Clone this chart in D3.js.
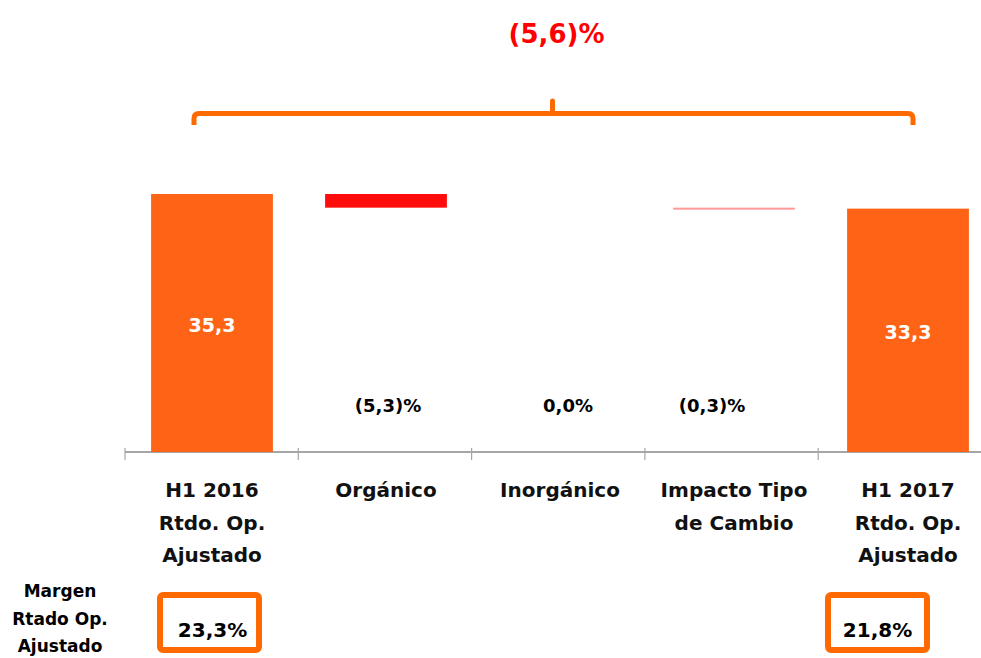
<!DOCTYPE html>
<html>
<head>
<meta charset="utf-8">
<script src="https://cdn.jsdelivr.net/npm/d3@7"></script>
<style>
  html, body { margin: 0; padding: 0; background: #fff; }
  svg { display: block; font-family: "DejaVu Sans", Verdana, sans-serif; font-weight: bold; }
</style>
</head>
<body>
<svg id="chart" width="981" height="658"></svg>
<script>
// ---- data ----
const categories = ["H1 2016\nRtdo. Op.\nAjustado", "Orgánico", "Inorgánico", "Impacto Tipo\nde Cambio", "H1 2017\nRtdo. Op.\nAjustado"];
const startValue = 35.3;
const deltas = [-1.87, 0.0, -0.1];
const endValue = 33.3;
const valueLabels = ["35,3", "33,3"];
const deltaLabels = ["(5,3)%", "0,0%", "(0,3)%"];
const totalChangeLabel = "(5,6)%";
const marginTitle = ["Margen", "Rtado Op.", "Ajustado"];
const marginLabels = ["23,3%", "21,8%"];

// ---- build waterfall rows ----
const rows = [];
rows.push({ cat: categories[0], y0: 0, y1: startValue, kind: "total" });
let run = startValue;
deltas.forEach((d, i) => {
  rows.push({ cat: categories[i + 1], y0: run, y1: run + d, kind: "delta", label: deltaLabels[i], idx: i });
  run += d;
});
rows.push({ cat: categories[4], y0: 0, y1: endValue, kind: "total" });

const svg = d3.select("#chart");
const axisY = 452;

const x = d3.scaleBand().domain(categories).range([125, 995]).paddingInner(0.3).paddingOuter(0.15);
const y = d3.scaleLinear().domain([0, startValue]).range([axisY, 194]);

// ---- axis ----
const axisG = svg.append("g").attr("transform", `translate(0,${axisY})`);
axisG.append("line").attr("x1", 125).attr("x2", 981).attr("y1", 0).attr("y2", 0)
  .attr("stroke", "#a6a6a6").attr("stroke-width", 2);
const step = x.step();
const tickXs = categories.map((c, i) => x.range()[0] + i * (step - 0.7));
axisG.selectAll("line.tick").data(tickXs).enter().append("line")
  .attr("class", "tick").attr("x1", d => d).attr("x2", d => d)
  .attr("y1", -4).attr("y2", 8).attr("stroke", "#a6a6a6").attr("stroke-width", 1.2);

// ---- bars ----
const deltaColors = ["#ff0d0d", "#ff0d0d", "#ff9a9a"];
svg.selectAll("rect.bar").data(rows.filter(r => r.y0 !== r.y1)).enter().append("rect")
  .attr("class", "bar")
  .attr("x", d => x(d.cat))
  .attr("width", x.bandwidth())
  .attr("y", d => y(Math.max(d.y0, d.y1)))
  .attr("height", d => Math.max(2, Math.abs(y(d.y0) - y(d.y1))))
  .attr("fill", d => d.kind === "total" ? "#ff6316" : deltaColors[d.idx]);

// value labels in total bars
const totals = rows.filter(r => r.kind === "total");
svg.selectAll("text.val").data(totals).enter().append("text")
  .attr("class", "val")
  .attr("x", d => x(d.cat) + x.bandwidth() / 2)
  .attr("y", d => (y(d.y1) + y(0)) / 2 + 9)
  .attr("text-anchor", "middle")
  .attr("fill", "#ffffff")
  .attr("font-size", 19)
  .text((d, i) => valueLabels[i]);

// delta percent labels
const deltaOffsets = [2, 8, -22];
svg.selectAll("text.dl").data(rows.filter(r => r.kind === "delta")).enter().append("text")
  .attr("class", "dl")
  .attr("x", d => x(d.cat) + x.bandwidth() / 2 + deltaOffsets[d.idx])
  .attr("y", 412)
  .attr("text-anchor", "middle")
  .attr("fill", "#000")
  .attr("font-size", 18)
  .text(d => d.label);

// category labels
categories.forEach(c => {
  const t = svg.append("text")
    .attr("x", x(c) + x.bandwidth() / 2)
    .attr("y", 497)
    .attr("text-anchor", "middle")
    .attr("fill", "#111")
    .attr("font-size", 20);
  c.split("\n").forEach((line, j) => {
    t.append("tspan").attr("x", x(c) + x.bandwidth() / 2).attr("dy", j === 0 ? 0 : 32.5).text(line);
  });
});

// ---- brace ----
const bx0 = x(categories[0]) + x.bandwidth() / 2 - 18;
const bx1 = x(categories[4]) + x.bandwidth() / 2 + 5;
const by = 113.5;
const bmid = (bx0 + bx1) / 2 - 1;
svg.append("path")
  .attr("d", `M${bx0},125 L${bx0},${by + 5} Q${bx0},${by} ${bx0 + 5},${by} L${bx1 - 5},${by} Q${bx1},${by} ${bx1},${by + 5} L${bx1},125`)
  .attr("fill", "none").attr("stroke", "#ff6a00").attr("stroke-width", 5);
svg.append("line")
  .attr("x1", bmid).attr("x2", bmid).attr("y1", by).attr("y2", 101)
  .attr("stroke", "#ff6a00").attr("stroke-width", 5).attr("stroke-linecap", "round");

svg.append("text")
  .attr("x", bmid + 4).attr("y", 43)
  .attr("text-anchor", "middle").attr("fill", "#ff0000").attr("font-size", 26)
  .text(totalChangeLabel);

// ---- margin section ----
const mt = svg.append("text").attr("x", 60).attr("y", 597).attr("text-anchor", "middle")
  .attr("font-size", 17).attr("fill", "#000");
marginTitle.forEach((line, j) => {
  mt.append("tspan").attr("x", 60).attr("dy", j === 0 ? 0 : 27.5).text(line);
});

boxCats = [0, 1];
boxCats.forEach(i => {
  const bxl = i === 0 ? 160 : 828;
  svg.append("rect")
    .attr("x", bxl).attr("y", 595).attr("width", 99).attr("height", 55)
    .attr("rx", 3)
    .attr("fill", "none").attr("stroke", "#ff6a00").attr("stroke-width", 6);
  svg.append("text")
    .attr("x", bxl + 49.5 + (i === 0 ? 3 : 0)).attr("y", 637)
    .attr("text-anchor", "middle").attr("font-size", 20).attr("fill", "#000")
    .text(marginLabels[i]);
});
</script>
</body>
</html>
